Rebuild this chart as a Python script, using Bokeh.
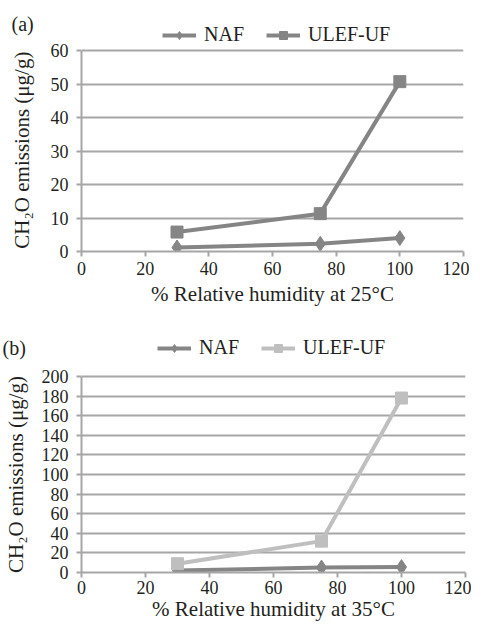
from bokeh.plotting import figure
from bokeh.models import Range1d, Legend, LegendItem, Label, FixedTicker
from bokeh.layouts import column
from bokeh.embed import file_html
from bokeh.resources import INLINE

# ---- data ----
rh = [30, 75, 100]
naf_25 = [1.2, 2.3, 4.0]
ulef_25 = [5.8, 11.3, 50.7]
naf_35 = [2.0, 5.0, 5.5]
ulef_35 = [9.0, 32.0, 178.0]
x_ticks = [0, 20, 40, 60, 80, 100, 120]
y_ticks_a = [0, 10, 20, 30, 40, 50, 60]
y_ticks_b = [0, 20, 40, 60, 80, 100, 120, 140, 160, 180, 200]

FONT = "Liberation Serif"
TXT = "#231f20"
GRID = "#a6a6a6"
DARK = "#858585"
LIGHT = "#bfbfbf"
YLABEL = "CH\u2082O emissions (\u03bcg/g)"


def make_panel(tag, naf, ulef, ulef_color, ymax, yticks, xlabel,
               left, right, top, bottom, plot_h, head, frame_w, leg_x, leg_y,
               tag_x, tag_y, ytitle_standoff, xlab_standoff, xtitle_standoff, pad):
    frame_h = plot_h + head
    ytop = ymax + ymax * head / plot_h
    p = figure(frame_width=frame_w, frame_height=frame_h,
               output_backend="svg", toolbar_location=None,
               x_range=Range1d(0, 120), y_range=Range1d(0, ytop),
               min_border_left=left, min_border_right=right,
               min_border_top=top, min_border_bottom=bottom)
    p.outline_line_color = None
    p.xgrid.grid_line_color = None
    p.ygrid.grid_line_color = GRID
    p.ygrid.grid_line_width = 2
    p.xaxis.ticker = FixedTicker(ticks=x_ticks)
    p.yaxis.ticker = FixedTicker(ticks=yticks)
    p.yaxis.bounds = (0, ymax)
    for ax in (p.xaxis, p.yaxis):
        ax.axis_line_color = GRID
        ax.axis_line_width = 2
        ax.major_tick_line_color = GRID
        ax.major_tick_line_width = 2
        ax.major_tick_out = 5
        ax.major_tick_in = 0
        ax.minor_tick_line_color = None
        ax.major_label_text_font = FONT
        ax.major_label_text_font_size = "18px"
        ax.major_label_text_color = TXT
        ax.axis_label_text_font = FONT
        ax.axis_label_text_font_size = "21px"
        ax.axis_label_text_font_style = "normal"
        ax.axis_label_text_color = TXT
    p.xaxis.axis_label = xlabel
    p.yaxis.axis_label = YLABEL + "\u00a0" * pad
    p.xaxis.major_label_standoff = xlab_standoff
    p.yaxis.major_label_standoff = 8
    p.xaxis.axis_label_standoff = xtitle_standoff
    p.yaxis.axis_label_standoff = ytitle_standoff

    l1 = p.line(rh, naf, line_color=DARK, line_width=4)
    s1 = p.scatter(rh, naf, marker="diamond", size=15, fill_color=DARK, line_color=DARK)
    l2 = p.line(rh, ulef, line_color=ulef_color, line_width=4)
    s2 = p.scatter(rh, ulef, marker="square", size=12, fill_color=ulef_color, line_color=ulef_color)

    p.add_layout(Label(x=tag_x, y=tag_y, x_units="screen", y_units="screen",
                       text=tag, text_font=FONT, text_font_size="20px",
                       text_color=TXT, text_baseline="middle"), "above")

    legend = Legend(items=[LegendItem(label="NAF", renderers=[l1, s1]),
                           LegendItem(label="ULEF-UF", renderers=[l2, s2])],
                    orientation="horizontal", location=(leg_x, leg_y),
                    glyph_width=34, glyph_height=20, label_standoff=8, spacing=22,
                    padding=0, margin=0, border_line_color=None,
                    background_fill_alpha=0,
                    label_text_font=FONT, label_text_font_size="20px",
                    label_text_color=TXT)
    p.add_layout(legend)
    return p


pa = make_panel("(a)", naf_25, ulef_25, DARK, 60, y_ticks_a,
                "% Relative humidity at 25\u00b0C",
                left=74, right=12, top=15, bottom=58, plot_h=201, head=28, frame_w=382,
                leg_x=81, leg_y=205, tag_x=-70, tag_y=-1,
                ytitle_standoff=14, xlab_standoff=5, xtitle_standoff=4, pad=5)
pb = make_panel("(b)", naf_35, ulef_35, LIGHT, 200, y_ticks_b,
                "% Relative humidity at 35\u00b0C",
                left=78, right=6, top=25, bottom=52, plot_h=196, head=42, frame_w=384,
                leg_x=76, leg_y=213, tag_x=-79, tag_y=-13,
                ytitle_standoff=11, xlab_standoff=3, xtitle_standoff=0, pad=8)

layout = column(pa, pb, spacing=0)
open("out.html", "w").write(file_html(layout, INLINE))
